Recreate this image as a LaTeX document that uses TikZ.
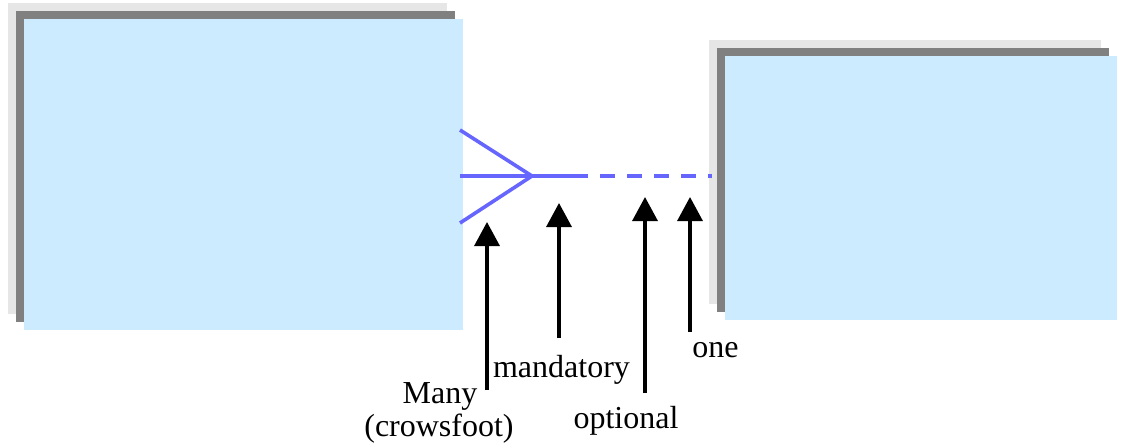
\documentclass[tikz,border=0pt]{standalone}
\usepackage{fontspec}
\setmainfont{Liberation Serif}
\usetikzlibrary{arrows.meta}
\definecolor{entblue}{HTML}{CCEBFF}
\definecolor{shadelt}{HTML}{E6E6E6}
\definecolor{shadedk}{HTML}{808080}
\definecolor{relblue}{HTML}{6666FF}

\begin{document}
\begin{tikzpicture}[x=0.75pt,y=-0.75pt,
      ent/.style={fill=entblue,inner sep=0pt},
      rel/.style={relblue,line width=2.7pt},
      ar/.style={-{Triangle[length=18pt,width=18.75pt]},line width=2.5pt},
      lb/.style={anchor=base,inner sep=0pt,font=\fontsize{24}{28}\selectfont}]
    \useasboundingbox (0,0) rectangle (1131,447);

    % ================= entity boxes =================
    \fill[shadelt] (8,3) rectangle (447,314);
    \fill[shadedk] (16,11) rectangle (455,322);
    \node[ent,minimum width=329.25pt,minimum height=233.25pt] (many) at (243.5,174.5) {};

    \fill[shadelt] (709,40) rectangle (1101,304);
    \fill[shadedk] (717,48) rectangle (1109,312);
    \node[ent,minimum width=294pt,minimum height=198pt] (one) at (921,188) {};

    % ================= the relationship line =================
    \coordinate (footU) at (460,130);
    \coordinate (footM) at (460,176);
    \coordinate (footL) at (460,223);
    \coordinate (foot)  at (532,176);
    \coordinate (solidE) at (576,176);
    \coordinate (dashS) at (573,176);
    \coordinate (dashE) at (712,176);

    \draw[rel] (footU) -- (foot) -- (footL);
    \draw[rel] (footM) -- (solidE);
    \draw[rel,dash pattern=on 11.25pt off 9pt] (dashS) -- (dashE);

    % ================= pointers and labels =================
    \coordinate (manyT) at (487,390);  \coordinate (manyH) at (487,222);
    \coordinate (mandT) at (559,338);  \coordinate (mandH) at (559,203);
    \coordinate (optT)  at (645,393);  \coordinate (optH)  at (645,197);
    \coordinate (oneT)  at (690,332);  \coordinate (oneH)  at (690,197);

    \draw[ar] (manyT) -- (manyH);
    \draw[ar] (mandT) -- (mandH);
    \draw[ar] (optT) -- (optH);
    \draw[ar] (oneT) -- (oneH);

    \node[lb] (manyA) at (440,403) {Many};
    \node[lb] (manyB) at (439,436) {(crowsfoot)};
    \node[lb] (mandL) at (561.5,377) {mandatory};
    \node[lb] (optL)  at (626,428) {optional};
    \node[lb] (oneL)  at (715.5,357) {one};
  \end{tikzpicture}
\end{document}
